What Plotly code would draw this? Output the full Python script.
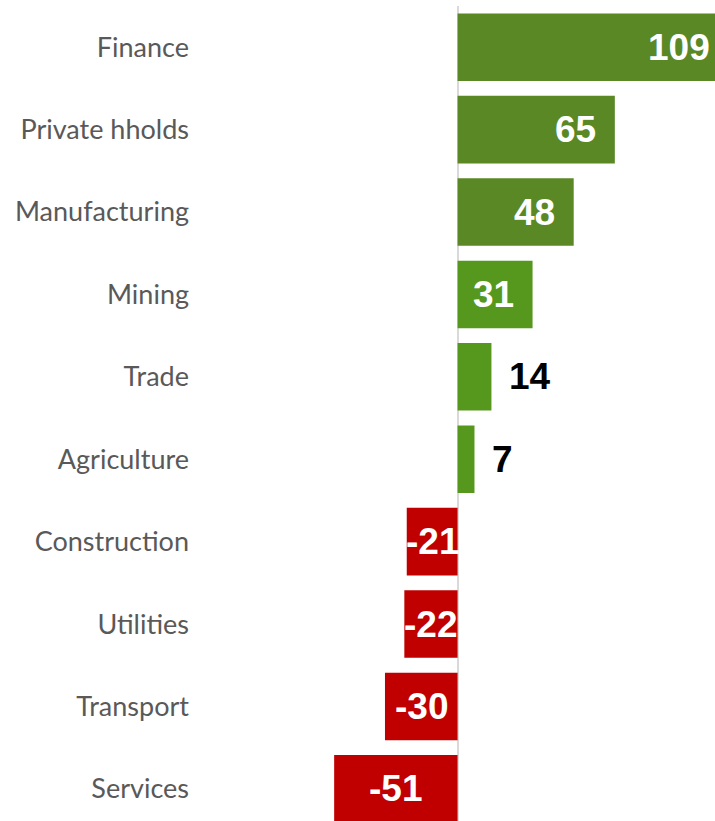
import plotly.graph_objects as go

categories = ["Finance", "Private hholds", "Manufacturing", "Mining", "Trade",
              "Agriculture", "Construction", "Utilities", "Transport", "Services"]
values = [109, 65, 48, 31, 14, 7, -21, -22, -30, -51]
colors = ["#5A8825", "#5A8825", "#5A8825", "#56971D", "#56971D", "#56971D",
          "#C00000", "#C00000", "#C00000", "#C00000"]

XMIN, XMAX = -108.1, 106.4

fig = go.Figure(go.Bar(
    y=categories, x=values, orientation="h",
    marker=dict(color=colors, line=dict(width=0)),
    hoverinfo="skip",
))

label_font = dict(family="Liberation Sans, Arial", size=37, color="white")
for cat, v in zip(categories, values):
    if v >= 30:
        fig.add_annotation(x=min(v, XMAX), y=cat, text=f"<b>{v}</b>", showarrow=False,
                           xanchor="right", yanchor="middle",
                           xshift=-17 if v < XMAX else -3, font=label_font)
    elif v > 0:
        fig.add_annotation(x=v, y=cat, text=f"<b>{v}</b>", showarrow=False,
                           xanchor="left", yanchor="middle", xshift=16,
                           font=dict(label_font, color="black"))
    else:
        fig.add_annotation(x=v / 2, y=cat, text=f"<b>{v}</b>", showarrow=False,
                           xanchor="center", yanchor="middle", font=label_font)

fig.update_layout(
    width=715, height=821,
    margin=dict(l=196, r=0, t=6, b=0),
    paper_bgcolor="white", plot_bgcolor="white",
    bargap=0.18,
    showlegend=False,
    xaxis=dict(range=[XMIN, XMAX], showgrid=False, showticklabels=False,
               zeroline=True, zerolinecolor="#D9D9D9", zerolinewidth=2,
               fixedrange=True),
    yaxis=dict(range=[9.39, -0.5], showgrid=False, zeroline=False,
               tickfont=dict(family="Lato, Noto Sans", size=27, color="#595959"),
               ticks="", ticklabelstandoff=6, fixedrange=True),
)

fig.write_html("out.html", config={"displayModeBar": False},
               post_script="document.body.style.margin='0';document.body.style.overflow='hidden';")
